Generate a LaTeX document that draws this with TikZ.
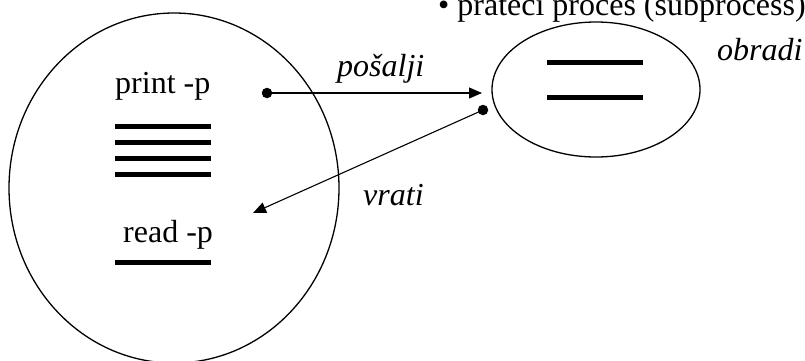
\documentclass[tikz,border=0pt]{standalone}
\usepackage{fontspec}
\setmainfont{Liberation Serif}
\usetikzlibrary{shapes.geometric,arrows.meta}
\begin{document}
\begin{tikzpicture}[x=1pt,y=-1pt,
  txt/.style={anchor=base west,inner sep=0pt,font=\fontsize{32}{36}\selectfont},
  itxt/.style={txt,font=\fontsize{32}{36}\selectfont\itshape},
  proc/.style={draw,ellipse,line width=1.3pt,inner sep=0pt,outer sep=0pt},
  bar/.style={line width=5pt},
  dot/.style={circle,fill,inner sep=0pt,minimum size=10.5pt},
  arr/.style={line width=1.1pt,-{Triangle[length=13pt,width=11pt]}}]
\useasboundingbox (0,0) rectangle (805,360);
% processes
\node[proc,minimum width=330pt,minimum height=350pt] (main) at (174,188) {};
\node[proc,minimum width=208pt,minimum height=135pt] (sub) at (596,89.5) {};
% title
\node[txt] (title) at (438,15) {• prateći proces (subprocess)};
% labels
\node[txt] (print) at (115,93) {print -p};
\node[txt] (read) at (123,242) {read -p};
\node[itxt] (send) at (337,76) {pošalji};
\node[itxt] (back) at (363,205) {vrati};
\node[itxt] (work) at (717,60) {obradi};
% bars
\foreach \y in {126,142,158,174}
  \draw[bar] (115,\y) -- (211,\y);
\draw[bar] (115,262) -- (211,262);
\draw[bar] (547,62) -- (643,62);
\draw[bar] (547,97) -- (643,97);
% connectors
\node[dot] (d1) at (267,93) {};
\node[dot] (d2) at (483,110) {};
\coordinate (e1) at (482,93);
\coordinate (e2) at (253,213);
\draw[arr] (d1.center) -- (e1);
\draw[arr] (d2.center) -- (e2);
\end{tikzpicture}
\end{document}
